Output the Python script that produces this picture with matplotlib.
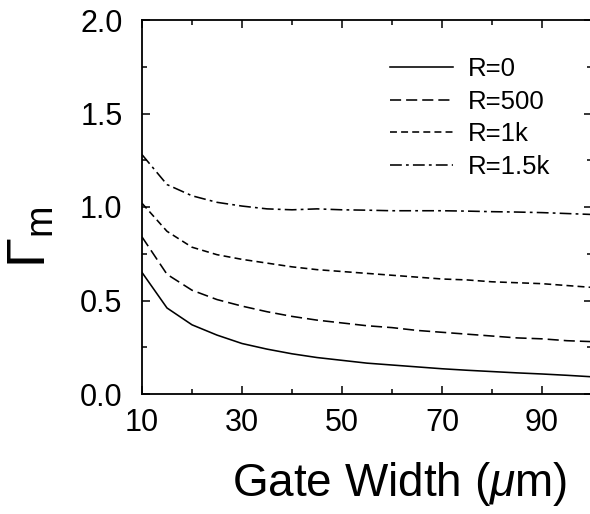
import matplotlib
matplotlib.use("Agg")
import matplotlib.pyplot as plt

plt.rcParams['font.family'] = ['Liberation Sans', 'DejaVu Sans']
plt.rcParams['mathtext.fontset'] = 'custom'
plt.rcParams['mathtext.rm'] = 'Liberation Sans'
plt.rcParams['mathtext.it'] = 'Liberation Sans:italic'
plt.rcParams['lines.scale_dashes'] = False

gate_width = [10, 15, 20, 25, 30, 35, 40, 45, 50, 55, 60, 65, 70, 75, 80, 85, 90, 95, 100]
r0 = [0.65, 0.46, 0.37, 0.315, 0.27, 0.24, 0.215, 0.195, 0.18, 0.165, 0.155, 0.145,
      0.135, 0.127, 0.12, 0.113, 0.107, 0.10, 0.092]
r500 = [0.84, 0.64, 0.555, 0.505, 0.47, 0.44, 0.415, 0.395, 0.38, 0.365, 0.355, 0.34,
        0.33, 0.32, 0.31, 0.30, 0.295, 0.285, 0.28]
r1k = [1.02, 0.87, 0.785, 0.745, 0.72, 0.70, 0.68, 0.665, 0.655, 0.645, 0.635, 0.625,
       0.615, 0.61, 0.60, 0.595, 0.59, 0.58, 0.57]
r15k = [1.28, 1.12, 1.06, 1.025, 1.005, 0.99, 0.985, 0.99, 0.985, 0.983, 0.98, 0.98,
        0.98, 0.978, 0.975, 0.973, 0.97, 0.965, 0.96]
labels = ['R=0', 'R=500', 'R=1k', 'R=1.5k']

fig = plt.figure(figsize=(5.9, 5.14), dpi=100)
ax = fig.add_axes([142/590, 120/514, 450/590, 374/514])

lw = 1.15
ax.plot(gate_width, r0, color='black', lw=lw, ls='-', label=labels[0])
ax.plot(gate_width, r500, color='black', lw=lw, dashes=(8, 3.6), label=labels[1])
ax.plot(gate_width, r1k, color='black', lw=lw, dashes=(5, 3), label=labels[2])
ax.plot(gate_width, r15k, color='black', lw=lw, dashes=(8.5, 3, 2, 3), label=labels[3])

ax.set_xlim(10, 100)
ax.set_ylim(0, 2.0)
ax.set_xticks([10, 30, 50, 70, 90])
ax.set_xticks([20, 40, 60, 80, 100], minor=True)
ax.set_yticks([0.0, 0.5, 1.0, 1.5, 2.0])
ax.set_yticklabels(['0.0', '0.5', '1.0', '1.5', '2.0'])
ax.set_yticks([0.25, 0.75, 1.25, 1.75], minor=True)
ax.tick_params(which='both', direction='in', top=True, right=True, width=1.1)
ax.tick_params(which='major', length=6, labelsize=22)
ax.tick_params(which='minor', length=3.5)
ax.tick_params(axis='x', which='major', pad=10)
ax.tick_params(axis='y', which='major', pad=14)
for s in ax.spines.values():
    s.set_linewidth(1.3)

fig.text(400/590, (514-496)/514, r'Gate Width ($\mu$m)', fontsize=33,
         ha='center', va='baseline')
fig.text(32/590, (514-237)/514, r'$\Gamma_\mathrm{m}$', fontsize=39,
         rotation=90, ha='center', va='center')

leg = ax.legend(loc='upper left', bbox_to_anchor=(390/590, (514-57)/514),
                bbox_transform=fig.transFigure, frameon=False, fontsize=18.5,
                handlelength=2.45, handletextpad=0.58, labelspacing=0.34,
                borderpad=0, borderaxespad=0)

fig.savefig('out.png', dpi=100)
